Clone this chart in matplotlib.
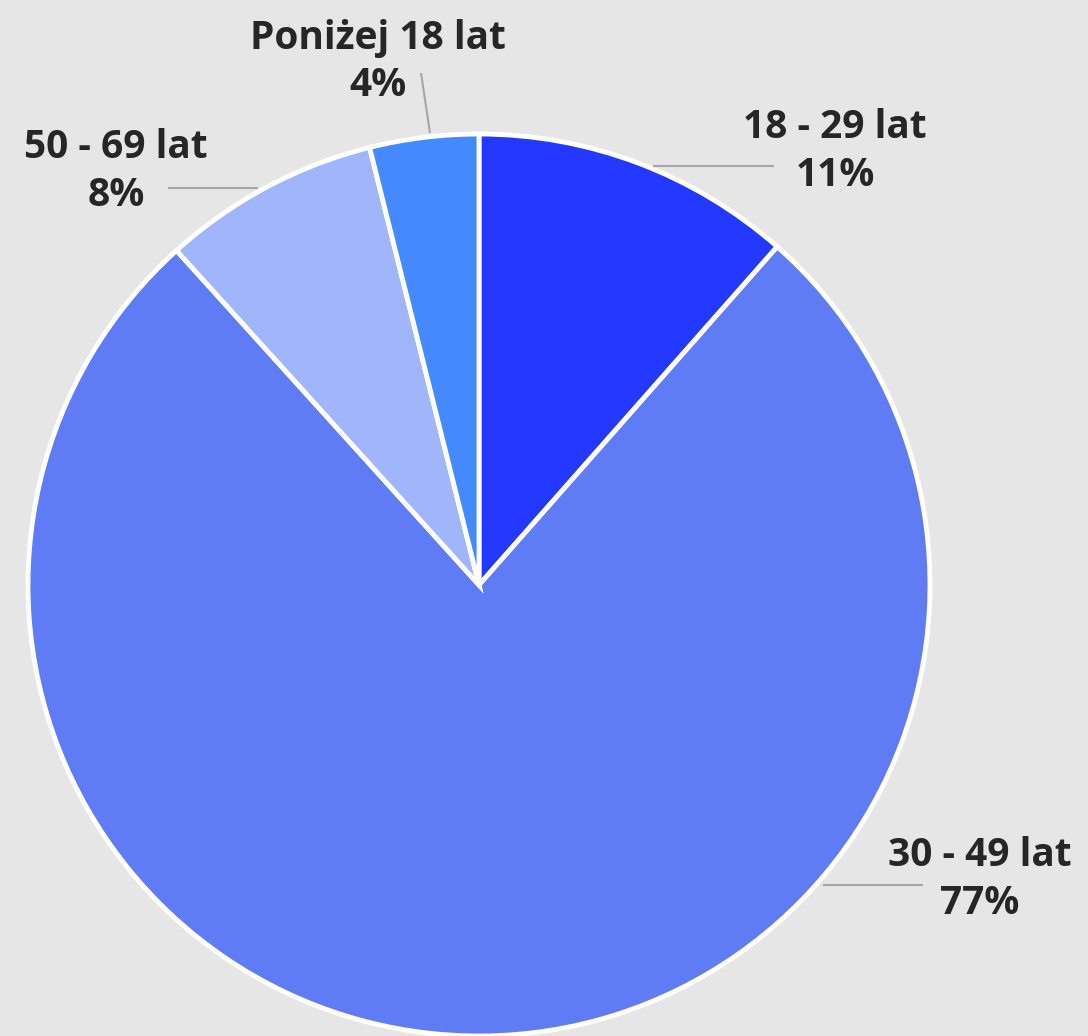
import matplotlib
matplotlib.use("Agg")
import matplotlib.pyplot as plt

categories = ["18 - 29 lat", "30 - 49 lat", "50 - 69 lat", "Poniżej 18 lat"]
values = [11.5, 76.8, 7.8, 3.9]
pct_labels = ["11%", "77%", "8%", "4%"]
colors = ["#2439ff", "#607cf5", "#a1b5fa", "#4589ff"]

W, H = 1088, 1036
fig = plt.figure(figsize=(W / 100, H / 100), dpi=100)
fig.patch.set_facecolor("#e6e6e6")
ax = fig.add_axes([0, 0, 1, 1])
ax.set_facecolor("#e6e6e6")

cx, cy, r = 479, H - 585, 451
wedges, _ = ax.pie(values, colors=colors, startangle=90, counterclock=False,
                   center=(cx, cy), radius=r,
                   wedgeprops=dict(edgecolor="white", linewidth=3.5))
ax.set_xlim(0, W)
ax.set_ylim(0, H)
ax.set_aspect("equal")
ax.axis("off")

# layout: leader line endpoints (px from top-left) and label centre
layout = {
    "18 - 29 lat": dict(line=((653, 166), (774, 166)), text=(835, 152)),
    "30 - 49 lat": dict(line=((823, 885), (923, 885)), text=(980, 879)),
    "50 - 69 lat": dict(line=((258, 188), (168, 188)), text=(116, 172)),
    "Poniżej 18 lat": dict(line=((430, 133), (421, 73)), text=(378, 62)),
}

for cat, pct in zip(categories, pct_labels):
    L = layout[cat]
    (x0, y0), (x1, y1) = L["line"]
    ax.plot([x0, x1], [H - y0, H - y1], color="#a6a6a6", lw=1.5, solid_capstyle="butt")
    tx, ty = L["text"]
    ax.text(tx, H - ty, f"{cat}\n{pct}", ha="center", va="center",
            fontsize=28, fontweight="bold", family=["Open Sans", "DejaVu Sans"],
            color="#262626", linespacing=1.3)

fig.savefig("out.png", dpi=100, facecolor=fig.get_facecolor())
